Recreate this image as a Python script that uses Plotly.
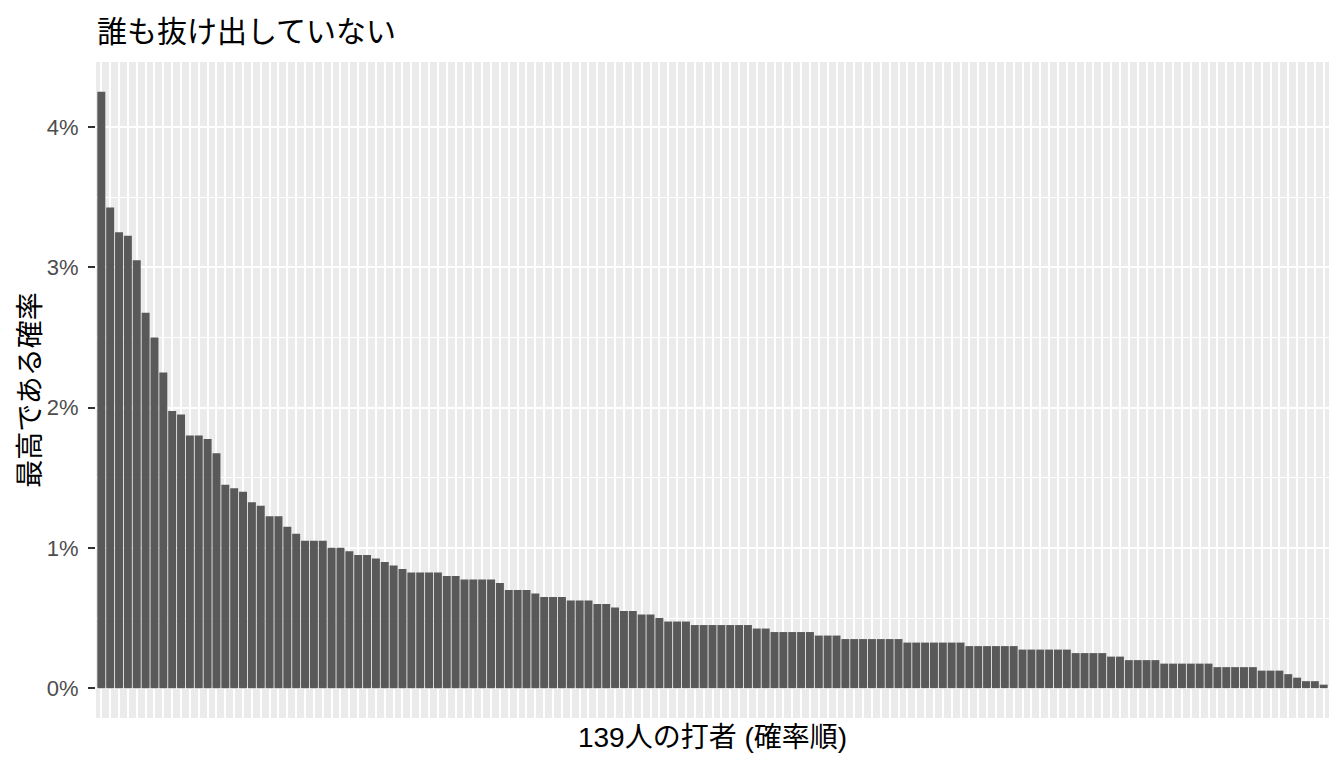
import plotly.graph_objects as go

# --------------------------
# Data: chance (%) that each batter is the best, sorted
# --------------------------
prob_pct = [
    4.25, 3.425, 3.25, 3.225, 3.05, 2.675, 2.5, 2.25, 1.975, 1.95,
    1.8, 1.8, 1.775, 1.675, 1.45, 1.425, 1.4, 1.325, 1.3, 1.225,
    1.225, 1.15, 1.1, 1.05, 1.05, 1.05, 1.0, 1.0, 0.975, 0.95,
    0.95, 0.925, 0.9, 0.875, 0.85, 0.825, 0.825, 0.825, 0.825, 0.8,
    0.8, 0.775, 0.775, 0.775, 0.775, 0.75, 0.7, 0.7, 0.7, 0.675,
    0.65, 0.65, 0.65, 0.625, 0.625, 0.625, 0.6, 0.6, 0.575, 0.55,
    0.55, 0.525, 0.525, 0.5, 0.475, 0.475, 0.475, 0.45, 0.45, 0.45,
    0.45, 0.45, 0.45, 0.45, 0.425, 0.425, 0.4, 0.4, 0.4, 0.4,
    0.4, 0.375, 0.375, 0.375, 0.35, 0.35, 0.35, 0.35, 0.35, 0.35,
    0.35, 0.325, 0.325, 0.325, 0.325, 0.325, 0.325, 0.325, 0.3, 0.3,
    0.3, 0.3, 0.3, 0.3, 0.275, 0.275, 0.275, 0.275, 0.275, 0.275,
    0.25, 0.25, 0.25, 0.25, 0.225, 0.225, 0.2, 0.2, 0.2, 0.2,
    0.175, 0.175, 0.175, 0.175, 0.175, 0.175, 0.15, 0.15, 0.15, 0.15,
    0.15, 0.125, 0.125, 0.125, 0.1, 0.075, 0.05, 0.05, 0.025,
]
rank = list(range(1, len(prob_pct) + 1))

y_ticks = [0, 1, 2, 3, 4]
y_ticktext = ["0%", "1%", "2%", "3%", "4%"]

# --------------------------
# Figure (page body adds an 8px margin, so the figure is 1336x760)
# --------------------------
W, H = 1336, 760

fig = go.Figure()
fig.add_trace(go.Bar(x=rank, y=prob_pct, marker=dict(color="#595959", line=dict(width=0)),
                     hoverinfo="skip"))

font_jp = "Liberation Sans, Noto Sans CJK JP, sans-serif"
ymax = max(prob_pct)
pad = ymax * 0.05

fig.update_layout(
    width=W, height=H,
    margin=dict(l=88, r=15, t=54, b=50),
    paper_bgcolor="white", plot_bgcolor="#EBEBEB",
    bargap=0.1, showlegend=False,
    font=dict(family=font_jp, color="black"),
    title=dict(text="誰も抜け出していない", x=89 / W, xanchor="left", xref="container",
               y=1 - 23 / H, yanchor="middle", yref="container",
               font=dict(size=30, color="black", family="Noto Sans CJK JP")),
)
fig.update_xaxes(
    range=[0.4, len(prob_pct) + 0.6], tickmode="linear", tick0=1, dtick=1,
    showticklabels=False, ticks="", showgrid=True, gridcolor="white", gridwidth=2,
    zeroline=False, showline=False,
    title=dict(text="139人の打者 (確率順)", standoff=9, font=dict(size=28, family=font_jp)),
)
fig.update_yaxes(
    range=[-pad, ymax + pad], tickmode="array", tickvals=y_ticks, ticktext=y_ticktext,
    tickfont=dict(size=22, color="#4D4D4D", family="Liberation Sans"),
    ticks="outside", ticklen=7, tickwidth=2, tickcolor="#333333", ticklabelstandoff=5,
    showgrid=True, gridcolor="white", gridwidth=2.2,
    minor=dict(dtick=0.5, tick0=0, showgrid=True, gridcolor="white", gridwidth=1.1, ticks=""),
    zeroline=False, showline=False,
    title=dict(text="最高である確率", standoff=8, font=dict(size=28, family="Noto Sans CJK JP")),
)

fig.write_html("out.html")
